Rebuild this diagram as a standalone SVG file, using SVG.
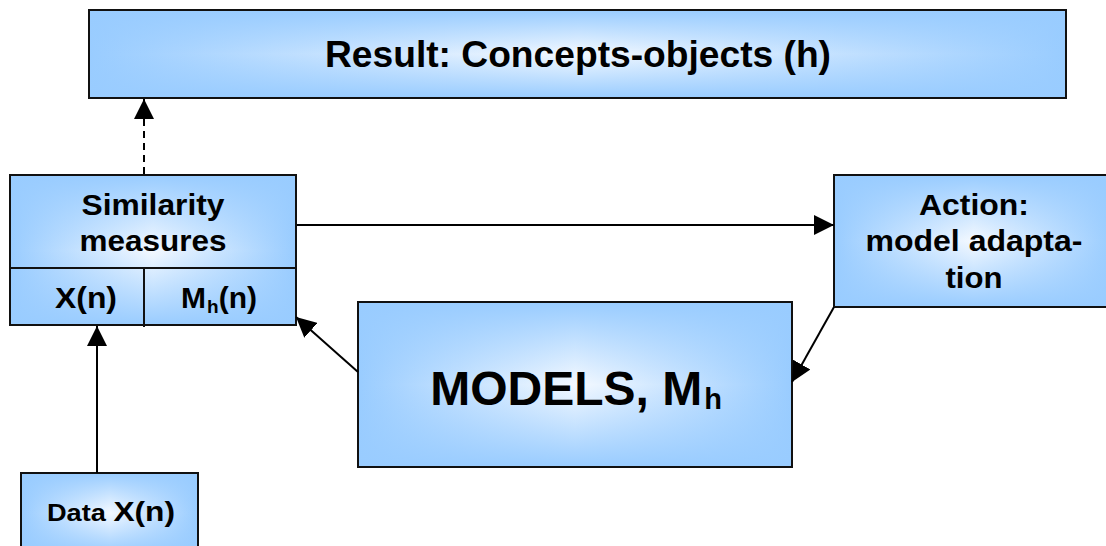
<svg xmlns="http://www.w3.org/2000/svg" width="1106" height="546" viewBox="0 0 1106 546">
<style>
.box{stroke:#111;stroke-width:2}
.hg{fill:url(#hgrad)}
.vg{fill:url(#vgrad)}
.t{font-family:"Liberation Sans",Arial,sans-serif;font-weight:bold;fill:#000;text-anchor:middle}
.edge{stroke:#000;stroke-width:2;fill:none}
</style>
<defs>
<linearGradient id="hgrad" x1="0" y1="0" x2="1" y2="0">
<stop offset="0" stop-color="#99ccff"/>
<stop offset="0.5" stop-color="#f4f9ff"/>
<stop offset="1" stop-color="#99ccff"/>
</linearGradient>
<linearGradient id="vgrad" x1="0" y1="0" x2="0" y2="1">
<stop offset="0" stop-color="#99ccff" stop-opacity="1"/>
<stop offset="0.5" stop-color="#99ccff" stop-opacity="0"/>
<stop offset="1" stop-color="#99ccff" stop-opacity="1"/>
</linearGradient>
<marker id="arr" markerUnits="userSpaceOnUse" markerWidth="22" markerHeight="20" refX="20" refY="10" orient="auto">
<path d="M0,0 L20,10 L0,20 Z" fill="#000"/>
</marker>
</defs>

<g id="result">
<rect class="hg" x="89" y="10" width="977" height="88"/>
<rect class="vg box" x="89" y="10" width="977" height="88"/>
<text class="t" x="578" y="67" font-size="37" textLength="506" lengthAdjust="spacingAndGlyphs">Result: Concepts-objects (h)</text>
</g>

<g id="similarity">
<rect class="hg" x="10" y="175" width="286" height="150"/>
<rect class="vg box" x="10" y="175" width="286" height="150"/>
<line class="box" x1="10" y1="268" x2="296" y2="268"/>
<line class="box" x1="144" y1="268" x2="144" y2="327"/>
<text class="t" x="153" y="215" font-size="30" textLength="143" lengthAdjust="spacingAndGlyphs">Similarity</text>
<text class="t" x="153" y="251" font-size="30" textLength="147" lengthAdjust="spacingAndGlyphs">measures</text>
<text class="t" x="86" y="308" font-size="30" textLength="62" lengthAdjust="spacingAndGlyphs">X(n)</text>
<text class="t" x="219" y="308" font-size="30">M<tspan font-size="19" dx="1" dy="5">h</tspan><tspan dy="-5">(n)</tspan></text>
</g>

<g id="action">
<rect class="hg" x="834" y="175" width="280" height="132"/>
<rect class="vg box" x="834" y="175" width="280" height="132"/>
<text class="t" x="974" y="215" font-size="30" textLength="110" lengthAdjust="spacingAndGlyphs">Action:</text>
<text class="t" x="974" y="251" font-size="30" textLength="217" lengthAdjust="spacingAndGlyphs">model adapta-</text>
<text class="t" x="974" y="288" font-size="30" textLength="57" lengthAdjust="spacingAndGlyphs">tion</text>
</g>

<g id="models">
<rect class="hg" x="358" y="302" width="434" height="165"/>
<rect class="vg box" x="358" y="302" width="434" height="165"/>
<text class="t" x="576" y="405" font-size="48">MODELS, M<tspan font-size="29" dx="2" dy="4">h</tspan></text>
</g>

<g id="data">
<rect class="hg" x="21" y="473" width="177" height="80"/>
<rect class="vg box" x="21" y="473" width="177" height="80"/>
<text class="t" x="111" y="521" textLength="128" lengthAdjust="spacingAndGlyphs"><tspan font-size="24">Data </tspan><tspan font-size="28">X(n)</tspan></text>
</g>

<g id="connectors">
<line class="edge" x1="144" y1="174" x2="144" y2="99" stroke-dasharray="7,5" marker-end="url(#arr)"/>
<line class="edge" x1="297" y1="225" x2="834" y2="225" marker-end="url(#arr)"/>
<line class="edge" x1="358" y1="372" x2="296" y2="317" marker-end="url(#arr)"/>
<line class="edge" x1="834" y1="307" x2="792" y2="382" marker-end="url(#arr)"/>
<line class="edge" x1="97" y1="473" x2="97" y2="326" marker-end="url(#arr)"/>
</g>
</svg>
